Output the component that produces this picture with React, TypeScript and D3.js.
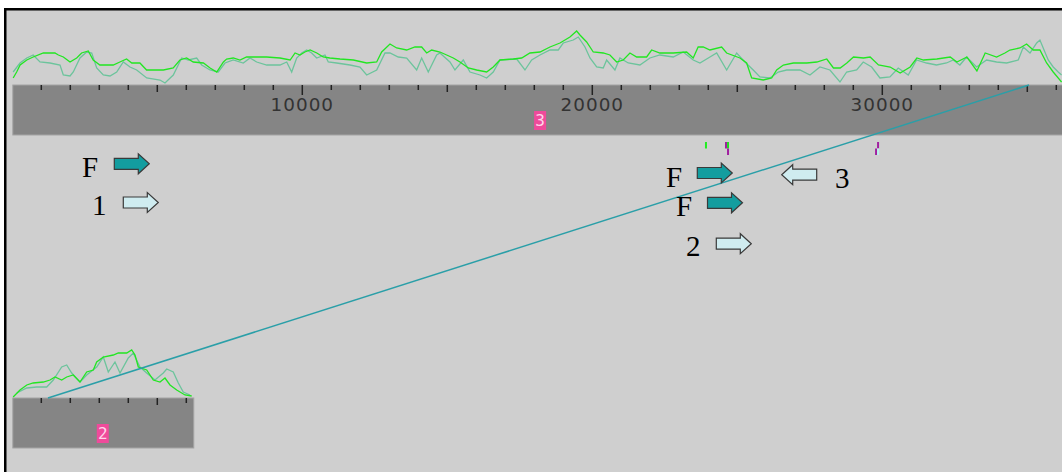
import React from "react";
import * as d3 from "d3";

const W = 1062;
const H = 472;

// Sequence names and lengths (bp)
const seqNames = ["3", "2"];
const seqLengths = [36400, 6240];

// Windowed composition plots: [position bp, score]
const topPlotA: [number, number][] = [
  [30, 7], [150, 13], [270, 20], [500, 25], [720, 28], [1070, 32], [1470, 32], [1590, 30], [1760, 28],
  [1990, 23], [2220, 27], [2390, 32], [2620, 34], [2790, 25], [3020, 20], [3480, 20], [3710, 23],
  [3940, 26], [4120, 22], [4400, 22], [4630, 15], [5210, 15], [5550, 17], [5780, 25], [6010, 27],
  [6240, 23], [6590, 22], [6820, 17], [7050, 13], [7280, 23], [7390, 26], [7620, 27], [7850, 25],
  [8080, 28], [8770, 28], [9230, 27], [9580, 25], [9750, 32], [9920, 30], [10090, 33], [10270, 35],
  [10500, 32], [10720, 28], [10950, 27], [11300, 26], [11760, 25], [12220, 22], [12565, 23],
  [12737, 33], [13023, 41], [13254, 37], [13599, 35], [13885, 38], [14116, 38], [14289, 32],
  [14461, 35], [14747, 33], [14978, 30], [15206, 27], [15437, 23], [15723, 17], [16013, 15],
  [16357, 13], [16585, 18], [16816, 25], [17274, 26], [17564, 27], [17850, 32], [18195, 33],
  [18540, 38], [18885, 42], [19229, 48], [19460, 54], [19574, 50], [19805, 43], [20033, 33],
  [20377, 32], [20608, 30], [20839, 23], [21067, 25], [21298, 32], [21529, 28], [21874, 28],
  [22046, 35], [22332, 32], [22791, 32], [23253, 33], [23480, 27], [23650, 38], [23826, 38],
  [24057, 35], [24460, 38], [24633, 32], [25091, 27], [25322, 22], [25495, 7], [25895, 5],
  [26185, 7], [26357, 15], [26588, 20], [26933, 22], [27395, 22], [27740, 23], [28085, 26],
  [28316, 17], [28547, 17], [28778, 22], [29006, 28], [29350, 27], [29581, 28], [29867, 20],
  [30271, 18], [30616, 12], [30961, 18], [31192, 27], [31420, 25], [31882, 26], [32341, 28],
  [32572, 23], [32917, 28], [33262, 14], [33548, 32], [33941, 28], [34228, 32], [34400, 35],
  [34745, 37], [34976, 41], [35204, 35], [35435, 35], [35666, 22], [35894, 13], [36183, 3],
];

const topPlotB: [number, number][] = [
  [30, 13], [265, 22], [500, 27], [720, 30], [955, 23], [1300, 22], [1645, 20], [1759, 10],
  [1990, 9], [2103, 13], [2334, 27], [2565, 33], [2738, 32], [2910, 17], [3138, 10], [3369, 9],
  [3600, 13], [3827, 23], [4058, 18], [4289, 15], [4634, 7], [5093, 5], [5265, 2], [5551, 10],
  [5841, 27], [6069, 25], [6358, 27], [6530, 20], [6817, 15], [7103, 13], [7334, 22], [7620, 25],
  [7965, 22], [8196, 27], [8427, 23], [8772, 20], [9231, 20], [9462, 23], [9634, 13], [9806, 27],
  [9979, 32], [10151, 35], [10323, 32], [10496, 27], [10782, 30], [10896, 23], [11185, 22],
  [11644, 20], [11989, 18], [12220, 10], [12565, 15], [12851, 32], [13023, 32], [13309, 28],
  [13599, 27], [13944, 15], [14116, 27], [14344, 13], [14633, 30], [14747, 32], [15092, 23],
  [15264, 15], [15551, 25], [15782, 13], [16127, 10], [16357, 7], [16585, 13], [16816, 25],
  [17392, 26], [17678, 15], [17909, 25], [18195, 30], [18540, 35], [18826, 35], [18999, 42],
  [19343, 45], [19516, 48], [19747, 38], [19920, 27], [20151, 18], [20377, 17], [20494, 25],
  [20780, 15], [20953, 27], [21239, 22], [21642, 20], [21987, 27], [22332, 30], [22791, 28],
  [23136, 33], [23481, 25], [23712, 22], [24057, 28], [24288, 32], [24633, 15], [24978, 32],
  [25264, 23], [25550, 15], [25781, 8], [26126, 7], [26412, 13], [26702, 15], [27161, 15],
  [27506, 10], [27850, 18], [28195, 15], [28540, 3], [28771, 13], [29116, 15], [29343, 23],
  [29633, 18], [29919, 7], [30264, 8], [30550, 17], [30895, 10], [31181, 25], [31526, 22],
  [31870, 20], [32215, 22], [32445, 25], [32675, 20], [32907, 28], [33252, 18], [33597, 25],
  [33941, 23], [34286, 22], [34689, 25], [34862, 38], [35093, 32], [35324, 42], [35435, 45],
  [35721, 25], [35894, 18], [36066, 13], [36183, 10],
];

const bottomPlotA: [number, number][] = [
  [30, 1], [265, 8], [500, 13], [720, 15], [1070, 16], [1300, 18], [1472, 21], [1703, 18],
  [1876, 21], [2103, 23], [2334, 16], [2565, 26], [2793, 28], [2910, 36], [3138, 41], [3483, 43],
  [3655, 45], [3945, 45], [4117, 48], [4231, 43], [4345, 31], [4634, 28], [4862, 18], [5093, 16],
  [5265, 20], [5438, 13], [5669, 8], [5955, 3], [6186, 2],
];

const bottomPlotB: [number, number][] = [
  [152, 5], [500, 10], [841, 11], [1186, 11], [1414, 18], [1703, 31], [1876, 33], [2048, 25],
  [2334, 16], [2565, 23], [2910, 31], [3138, 41], [3310, 26], [3541, 36], [3714, 25], [4000, 40],
  [4172, 45], [4403, 31], [4634, 25], [4920, 18], [5207, 25], [5324, 29], [5551, 26], [5724, 15],
  [5896, 6], [6127, 3],
];

// Single comparison hit between sequence 3 (top) and sequence 2 (bottom)
const matchTopPos = 35060;
const matchBottomPos = 1230;

// Small feature blocks under the top ruler: position, frame row, colour
const featurePos = [23920, 24610, 24680, 24680, 29854, 29785, 29854];
const featureRow = [0, 0, 0, 1, 0, 1, 1];
const featureColor = ["#22ee22", "#a020a0", "#22dd22", "#a020a0", "#a020a0", "#a020a0", "#b8f2ea"];

// Arrow annotations
const annoLabels = ["F", "1", "F", "F", "3", "2"];
const annoDirs = [1, 1, 1, 1, -1, 1];
const annoDark = [true, false, true, true, false, false];

const tickLabelStep = 10000;

export default function App() {
  const bpPerPx = 1 / 0.029;
  const x0 = 12.3;
  const xTop = d3.scaleLinear().domain([0, seqLengths[0]]).range([x0, x0 + seqLengths[0] / bpPerPx]);
  const xBot = d3.scaleLinear().domain([0, seqLengths[1]]).range([x0, x0 + seqLengths[1] / bpPerPx]);
  const plotH = d3.scaleLinear().domain([0, 60]).range([0, 60]);

  const rulers = [
    { x: xTop, y: 85, len: seqLengths[0], name: seqNames[0], a: topPlotA, b: topPlotB },
    { x: xBot, y: 398, len: seqLengths[1], name: seqNames[1], a: bottomPlotA, b: bottomPlotB },
  ];
  const bandH = 50;

  const lineFor = (x: d3.ScaleLinear<number, number>, base: number) =>
    d3
      .line<[number, number]>()
      .x((d) => x(d[0]))
      .y((d) => base - plotH(d[1]));

  // arrow geometry
  const arrowW = 35;
  const arrowHeadH = 20;
  const arrowBodyH = 11;
  const arrowHeadL = 11;
  const arrowPath = (cx: number, cy: number, dir: number) => {
    const half = arrowW / 2;
    const pts: [number, number][] = [
      [-half, -arrowBodyH / 2],
      [half - arrowHeadL, -arrowBodyH / 2],
      [half - arrowHeadL, -arrowHeadH / 2],
      [half, 0],
      [half - arrowHeadL, arrowHeadH / 2],
      [half - arrowHeadL, arrowBodyH / 2],
      [-half, arrowBodyH / 2],
    ];
    return "M" + pts.map(([px, py]) => `${cx + px * dir},${cy + py}`).join("L") + "Z";
  };

  // label anchor (start x, baseline y) and arrow centre for each annotation
  const annoText: [number, number][] = [
    [82, 176.5], [92, 215], [666, 187], [676, 216], [835, 188], [686, 255.5],
  ];
  const annoArrow: [number, number][] = [
    [131.8, 163.8], [140.8, 202.5], [714.8, 173], [725, 202.8], [799.2, 174.7], [733.8, 243.7],
  ];

  return (
    <div style={{ position: "absolute", left: 0, top: 0 }}>
      <svg width={W} height={H} style={{ display: "block" }}>
        <rect x={0} y={0} width={W} height={H} fill="#ffffff" />
        <rect x={4} y={8} width={W} height={H} fill="#cfcfcf" />
        <rect x={4} y={8} width={W} height={2.5} fill="#000" />
        <rect x={4} y={8} width={2.5} height={H} fill="#000" />

        {rulers.map((r, i) => {
          const ticks = d3.range(1000, r.len + 1, 1000);
          const [sx, ex] = r.x.range();
          const labels = ticks.filter((t) => t % tickLabelStep === 0);
          const mid = r.x(r.len / 2);
          return (
            <g key={i}>
              <rect x={sx + 0.5} y={r.y} width={ex - sx} height={bandH} fill="#858585" stroke="#a4a4a4" strokeWidth={1} />
              {ticks.map((t) => {
                const l = t % 10000 === 0 ? 10 : t % 5000 === 0 ? 7 : 5;
                return <line key={t} x1={r.x(t)} x2={r.x(t)} y1={r.y} y2={r.y + l} stroke="#222" strokeWidth={1.5} />;
              })}
              {labels.map((t) => (
                <text
                  key={t}
                  x={r.x(t)}
                  y={r.y + 25.7}
                  textAnchor="middle"
                  fontFamily="DejaVu Sans"
                  fontSize={18.4}
                  letterSpacing={1}
                  fill="#333333"
                >
                  {t}
                </text>
              ))}
              <rect x={mid - 6} y={r.y + 26} width={12} height={19} fill="#ef4b9b" />
              <text x={mid} y={r.y + 41} textAnchor="middle" fontFamily="DejaVu Sans Mono" fontSize={16} fill="#ffd6ea">
                {r.name}
              </text>
              <path d={lineFor(r.x, r.y)(r.b) || ""} fill="none" stroke="#6cc49c" strokeWidth={1.3} />
              <path d={lineFor(r.x, r.y)(r.a) || ""} fill="none" stroke="#22e622" strokeWidth={1.3} />
            </g>
          );
        })}

        {/* feature blocks */}
        {featurePos.map((p, i) => (
          <rect
            key={i}
            x={xTop(p) - 1}
            y={142 + featureRow[i] * 6.5}
            width={2}
            height={6.5}
            fill={featureColor[i]}
          />
        ))}

        {/* comparison hit */}
        <line
          x1={xTop(matchTopPos)}
          y1={rulers[0].y}
          x2={xBot(matchBottomPos)}
          y2={rulers[1].y}
          stroke="#2a9fa8"
          strokeWidth={1.5}
        />

        {/* arrow annotations */}
        {annoLabels.map((lab, i) => (
          <g key={i}>
            <text x={annoText[i][0]} y={annoText[i][1]} fontFamily="Liberation Serif" fontSize={29} fill="#000">
              {lab}
            </text>
            <path
              d={arrowPath(annoArrow[i][0], annoArrow[i][1], annoDirs[i])}
              fill={annoDark[i] ? "#139d9f" : "#cfecf0"}
              stroke="#3a3a3a"
              strokeWidth={1.2}
            />
          </g>
        ))}
      </svg>
    </div>
  );
}
